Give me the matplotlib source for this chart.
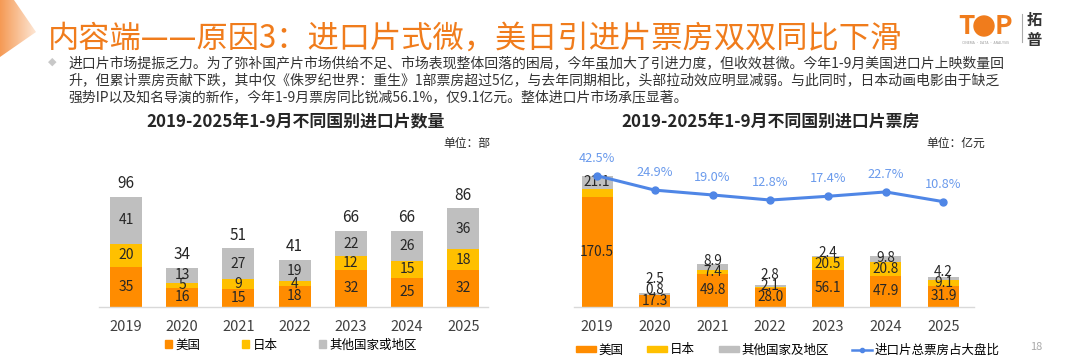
import numpy as np
import matplotlib
matplotlib.use('Agg')
import matplotlib.pyplot as plt
from matplotlib.patches import Polygon, Circle, Patch
from matplotlib.lines import Line2D
from matplotlib.colors import LinearSegmentedColormap

plt.rcParams['font.family'] = ['Noto Sans CJK SC', 'DejaVu Sans']

# ---- data ----
years = ['2019', '2020', '2021', '2022', '2023', '2024', '2025']

count_us = [35, 16, 15, 18, 32, 25, 32]
count_jp = [20, 5, 9, 4, 12, 15, 18]
count_other = [41, 13, 27, 19, 22, 26, 36]
count_total = [96, 34, 51, 41, 66, 66, 86]

box_us = [170.5, 17.3, 49.8, 28.0, 56.1, 47.9, 31.9]
box_jp = [11.5, 0.8, 7.4, 2.1, 20.5, 20.8, 9.1]      # 2019 value not labelled in source
box_other = [21.1, 2.5, 8.9, 2.8, 2.4, 9.8, 4.2]
box_share = [42.5, 24.9, 19.0, 12.8, 17.4, 22.7, 10.8]

title = '内容端——原因3：进口片式微，美日引进片票房双双同比下滑'
para = [
    '进口片市场提振乏力。为了弥补国产片市场供给不足、市场表现整体回落的困局，今年虽加大了引进力度，但收效甚微。今年1-9月美国进口片上映数量回',
    '升，但累计票房贡献下跌，其中仅《侏罗纪世界：重生》1部票房超过5亿，与去年同期相比，头部拉动效应明显减弱。与此同时，日本动画电影由于缺乏',
    '强势IP以及知名导演的新作，今年1-9月票房同比锐减56.1%，仅9.1亿元。整体进口片市场承压显著。',
]

ORANGE = '#FF8C00'
YELLOW = '#FFC000'
GRAY = '#BFBFBF'
BLUE = '#4F86E6'
LBLUE = '#6A9AEC'
TXT = '#262626'

W, H = 1080, 361
fig = plt.figure(figsize=(W / 100, H / 100), dpi=100)

# overlay in pixel coordinates for header stuff
bg = fig.add_axes([0, 0, 1, 1])
bg.set_xlim(0, W)
bg.set_ylim(H, 0)
bg.axis('off')

grad = np.linspace(0, 1, 64).reshape(1, -1)
cm = LinearSegmentedColormap.from_list('hdr', ['#F59A55', '#FDE6D4'])
im = bg.imshow(grad, extent=(0, 36, 57, 0), cmap=cm, aspect='auto', zorder=0)
tri = Polygon([(0, 0), (14, 0), (36, 32), (0, 57)], closed=True,
              transform=bg.transData, facecolor='none', edgecolor='none')
bg.add_patch(tri)
im.set_clip_path(tri)
bg.set_xlim(0, W)
bg.set_ylim(H, 0)

bg.text(48, 39, title, fontsize=22.5, color='#F07C1C', va='center', ha='left')

# logo
bg.text(966, 26, 'T', fontsize=19, fontweight='bold', color='#F07C1C', ha='center', va='center')
bg.add_patch(Circle((984, 26), 10, color='#F07C1C'))
bg.text(1003, 26, 'P', fontsize=19, fontweight='bold', color='#F07C1C', ha='center', va='center')
bg.text(985, 43, 'CINEMA · DATA · ANALYSIS', fontsize=2.5, color='#999999', ha='center', va='center')
bg.plot([1022, 1022], [14, 42], color='#AAAAAA', lw=0.8)
bg.text(1034, 20, '拓', fontsize=11, fontweight='bold', color='#333333', ha='center', va='center')
bg.text(1034, 40, '普', fontsize=11, fontweight='bold', color='#333333', ha='center', va='center')

# paragraph
bg.text(52, 62, '◆', fontsize=8, color='#C8C8C8', ha='center', va='center', family=['DejaVu Sans'])
for k, line in enumerate(para):
    bg.text(68, 63 + 17 * k, line, fontsize=10, color='#333333', ha='left', va='center')

# chart titles and units
bg.text(296, 122, '2019-2025年1-9月不同国别进口片数量', fontsize=12.2, fontweight='bold',
        color=TXT, ha='center', va='center')
bg.text(490, 143, '单位：部', fontsize=8.5, color=TXT, ha='right', va='center')
bg.text(771, 123, '2019-2025年1-9月不同国别进口片票房', fontsize=12.2, fontweight='bold',
        color=TXT, ha='center', va='center')
bg.text(985, 143, '单位：亿元', fontsize=8.5, color=TXT, ha='right', va='center')
bg.text(1036, 347, '18', fontsize=8, color='#AAAAAA', ha='center', va='center')


def style_axes(ax):
    for s in ['top', 'right', 'left']:
        ax.spines[s].set_visible(False)
    ax.spines['bottom'].set_color('#D9D9D9')
    ax.spines['bottom'].set_linewidth(1)
    ax.set_yticks([])
    ax.tick_params(axis='x', length=0, pad=10, labelsize=10.5, labelcolor='#404040')


def seg_labels(ax, xs, series, hidden=(), gap=11, size=10):
    tr = ax.transData
    base = np.zeros(len(xs))
    mids = []
    for vals in series:
        v = np.array(vals, dtype=float)
        mids.append(base + v / 2)
        base = base + v
    for i, x in enumerate(xs):
        last = None
        for k, vals in enumerate(series):
            px, py = tr.transform((x, mids[k][i]))
            if last is not None and py < last + gap:
                py = last + gap
            last = py
            if (k, i) in hidden:
                continue
            y = tr.inverted().transform((px, py))[1]
            txt = f'{vals[i]:g}' if isinstance(vals[i], int) else f'{vals[i]:.1f}'
            ax.text(x, y, txt, ha='center', va='center', fontsize=size, color=TXT, zorder=5)


bot = 1 - 306.5 / H
top = 1 - 150 / H
x = np.arange(len(years))

# ---- left: counts ----
ax1 = fig.add_axes([99 / W, bot, 389 / W, top - bot])
ax1.bar(x, count_us, 0.57, color=ORANGE)
ax1.bar(x, count_jp, 0.57, bottom=count_us, color=YELLOW)
ax1.bar(x, count_other, 0.57, bottom=np.add(count_us, count_jp), color=GRAY)
ax1.set_xlim(-0.48, 6.44)
ax1.set_ylim(0, 137)
style_axes(ax1)
ax1.set_xticks(x, years)
seg_labels(ax1, x, [count_us, count_jp, count_other], gap=10)
for i, t in enumerate(count_total):
    ax1.annotate(str(t), (i, t), xytext=(0, 9.5), textcoords='offset points',
                 ha='center', va='center', fontsize=11, color=TXT)

leg1 = [Patch(color=ORANGE, label='美国'), Patch(color=YELLOW, label='日本'),
        Patch(color=GRAY, label='其他国家或地区')]
fig.legend(handles=leg1, loc='center left', bbox_to_anchor=(165 / W, 1 - 345 / H), ncol=3,
           frameon=False, fontsize=9, handlelength=0.55, handleheight=0.55,
           handletextpad=0.3, columnspacing=3.3, borderpad=0, borderaxespad=0)

# ---- right: box office ----
ax2 = fig.add_axes([574 / W, bot, 400 / W, top - bot])
ax2.bar(x, box_us, 0.54, color=ORANGE)
ax2.bar(x, box_jp, 0.54, bottom=box_us, color=YELLOW)
ax2.bar(x, box_other, 0.54, bottom=np.add(box_us, box_jp), color=GRAY)
ax2.set_xlim(-0.40, 6.53)
ax2.set_ylim(0, 243)
style_axes(ax2)
ax2.set_xticks(x, years)
seg_labels(ax2, x, [box_us, box_jp, box_other], hidden={(1, 0)}, size=9.8)

ax3 = ax2.twinx()
ax3.set_position(ax2.get_position())
ax3.plot(x, box_share, color=BLUE, lw=2.2, marker='o', ms=5)
ax3.set_ylim(-117.2, 73.9)
ax3.axis('off')
for i, v in enumerate(box_share):
    ax3.annotate(f'{v:.1f}%', (i, v), xytext=(0, 12.5), textcoords='offset points',
                 ha='center', va='center', fontsize=9.2, color=LBLUE)

leg2 = [Patch(color=ORANGE, label='美国'), Patch(color=YELLOW, label='日本'),
        Patch(color=GRAY, label='其他国家及地区'),
        Line2D([], [], color=BLUE, lw=1.8, marker='o', ms=3, label='进口片总票房占大盘比')]
fig.legend(handles=leg2, loc='center left', bbox_to_anchor=(576 / W, 1 - 350 / H), ncol=4,
           frameon=False, fontsize=9, handlelength=1.6, handleheight=0.45,
           handletextpad=0.2, columnspacing=1.9, borderpad=0, borderaxespad=0)

fig.savefig('out.png', dpi=100)
